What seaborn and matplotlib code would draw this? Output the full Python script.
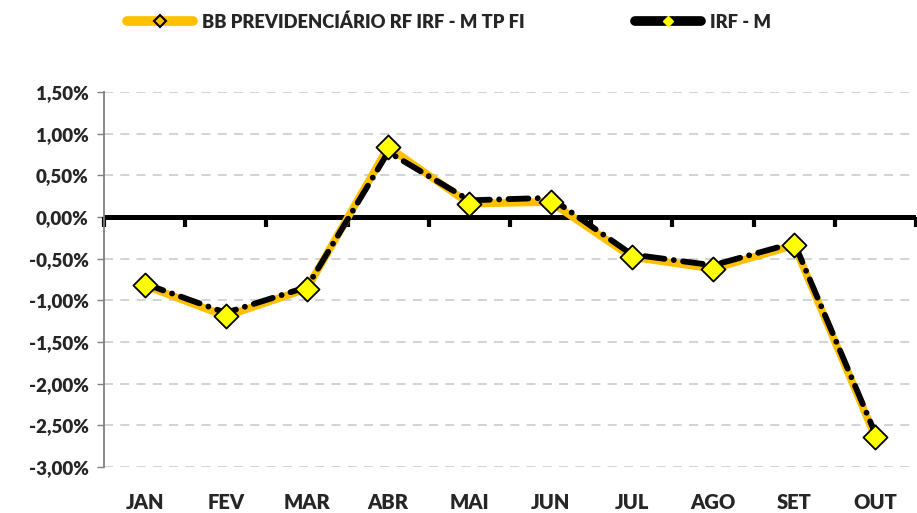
import numpy as np
import pandas as pd
import matplotlib
matplotlib.use("Agg")
import matplotlib.pyplot as plt
from matplotlib.lines import Line2D, TICKDOWN
from matplotlib.ticker import FuncFormatter
import seaborn as sns

MONTHS = ["JAN", "FEV", "MAR", "ABR", "MAI", "JUN", "JUL", "AGO", "SET", "OUT"]
FUND = [-0.82, -1.19, -0.86, 0.84, 0.16, 0.18, -0.48, -0.62, -0.34, -2.64]
INDEX = [-0.80, -1.15, -0.84, 0.78, 0.20, 0.23, -0.45, -0.58, -0.31, -2.60]
FUND_NAME = "BB PREVIDENCIÁRIO RF IRF - M TP FI"
INDEX_NAME = "IRF - M"

ORANGE = "#FFC000"
YELLOW = "#FFFF00"
GRID = "#D0D0D0"

sns.set_style("white")
plt.rcParams["font.family"] = ["Lato", "DejaVu Sans"]
plt.rcParams["font.weight"] = "heavy"

df = pd.DataFrame({"pos": np.arange(len(MONTHS)), "fund": FUND, "index": INDEX})
bounds = np.arange(len(MONTHS) + 1) - 0.5

fig = plt.figure(figsize=(9.17, 5.13), dpi=100)
ax = fig.add_axes([0.1134, 0.0897, 0.8855, 0.731])

for y in np.arange(-3.0, 1.51, 0.5):
    if abs(y) > 1e-9:
        ax.axhline(y, color=GRID, lw=1.3, ls=(0, (5, 4)), zorder=0)

# zero axis with category boundary ticks hanging below it
ax.axhline(0, color="black", lw=3.6, zorder=1.5)
ax.plot(bounds, np.zeros_like(bounds), ls="none", marker=TICKDOWN,
        markersize=7, markeredgewidth=3, color="black", zorder=1.5,
        clip_on=False)

sns.lineplot(data=df, x="pos", y="fund", ax=ax, color=ORANGE, lw=5.5,
             solid_capstyle="round", zorder=2)
sns.lineplot(data=df, x="pos", y="index", ax=ax, color="black", lw=4.2,
             ls=(0, (3.4, 1.6, 0.01, 1.6)), dash_capstyle="round", zorder=3)
sns.scatterplot(data=df, x="pos", y="fund", ax=ax, marker="D", s=150,
                color=YELLOW, edgecolor="black", linewidth=1.3, zorder=5)

ax.set_xlim(-0.5, len(MONTHS) - 0.5)
ax.set_ylim(-3.0, 1.5)
ax.set_yticks(np.arange(-3.0, 1.51, 0.5))
ax.yaxis.set_major_formatter(FuncFormatter(lambda v, p: f"{v:.2f}%".replace(".", ",")))
ax.set_xticks(df["pos"])
ax.set_xticklabels(MONTHS)
ax.set_xlabel("")
ax.set_ylabel("")
ax.tick_params(axis="x", length=0, pad=19, labelsize=14.5)
ax.tick_params(axis="y", length=5, width=1, color="#808080", direction="out",
               labelsize=13.5, pad=6, left=True)
for sp in ["top", "right", "bottom"]:
    ax.spines[sp].set_visible(False)
ax.spines["left"].set_color("#808080")
ax.spines["left"].set_linewidth(1.3)

handles = [
    Line2D([], [], color=ORANGE, lw=7, solid_capstyle="round", marker="D",
           markersize=6, markerfacecolor=ORANGE, markeredgecolor="black",
           markeredgewidth=1.5),
    Line2D([], [], color="black", lw=7, solid_capstyle="round", marker="D",
           markersize=5, markerfacecolor=YELLOW, markeredgecolor=YELLOW),
]
fig.legend(handles, [FUND_NAME, INDEX_NAME], loc="center left", ncol=2,
           bbox_to_anchor=(0.139, 0.957), frameon=False, fontsize=13.2,
           handlelength=3.6, columnspacing=6.05, handletextpad=0.45,
           borderaxespad=0, borderpad=0)

fig.savefig("out.png", dpi=100)
